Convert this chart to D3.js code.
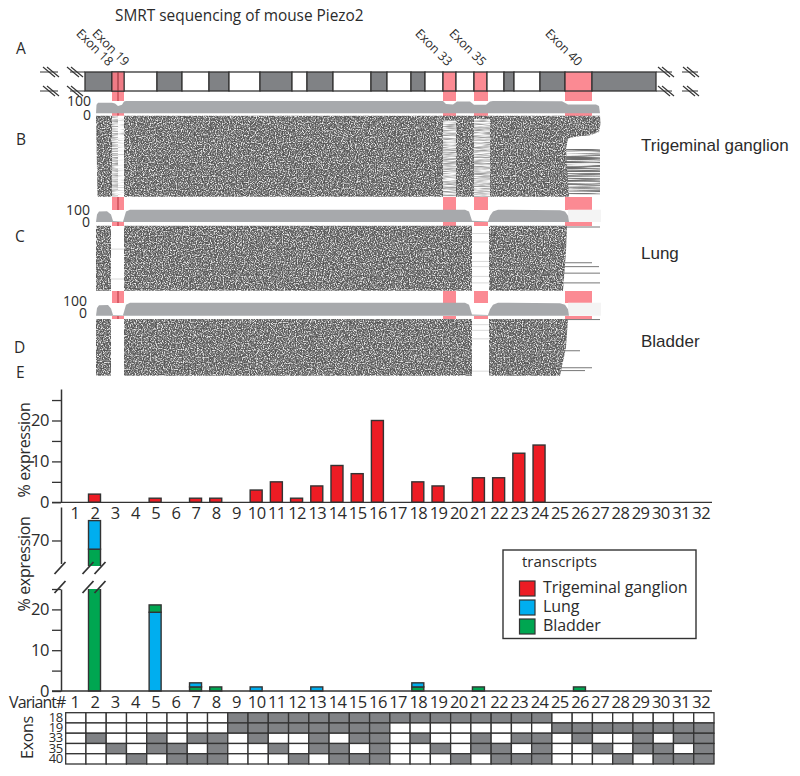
<!DOCTYPE html>
<html>
<head>
<meta charset="utf-8">
<script src="https://cdn.jsdelivr.net/npm/d3@7"></script>
<style>
html,body{margin:0;padding:0;background:#fff;}
svg{display:block;}
text{font-family:"Open Sans",sans-serif;fill:#2b2b2b;}
.arial{font-family:"Liberation Sans",sans-serif;}
</style>
</head>
<body>
<svg id="chart" width="800" height="776"></svg>
<script>
// transcript track, positions along the transcript
const trackEdges = [0,27,39,72,97,124,144,175,207,222,248,286,302,326,340,358,371,389,402,419,429,455,480,507,571];
const trackKinds = ['g','p','w','g','w','g','w','g','w','g','w','g','w','g','w','p','w','p','w','g','w','g','p','g'];
const pinkExons = [[27,39],[358,371],[389,403],[480,507]];
const exon18End = 33;
const exonLabels = ['Exon 18','Exon 19','Exon 33','Exon 35','Exon 40'];
const exonLabelPos = [26,42,365,399,495];

// coverage, [position, % of max]
const coverageB = [[11,0],[11.5,70],[13,85],[27,85],[30,80],[33,60],[37,70],[39,95],[41,100],[358,100],[361,75],[368,72],[372,95],[385,95],[389,70],[401,70],[405,95],[408,100],[477,98],[483,72],[511,72],[514,60],[515,0]];
const coverageC = [[11,0],[12,60],[14,85],[22,88],[26,60],[28,8],[38,3],[39,30],[41,85],[45,100],[380,100],[384,85],[387,10],[403,5],[405,50],[408,85],[413,100],[475,95],[480,85],[483,50],[484,0]];
const coverageD = [[11,0],[12,60],[14,80],[23,82],[26,55],[28,6],[38,3],[39,30],[41,85],[45,100],[380,100],[384,85],[387,10],[403,6],[405,50],[408,85],[413,100],[475,95],[480,85],[483,50],[484,0]];

// read pile-ups, [position, read rank 0-100]
const denseB = [
  [[11,0],[27,0],[27,100],[12.5,100]],
  [[39,0],[358,0],[358,100],[39,100]],
  [[371,0],[389,0],[389,100],[371,100]],
  [[405,0],[515,0],[515.5,10],[514,20],[505,24],[490,26],[483,28],[481,41],[484,100],[405,100]],
  [[358,0],[371,0],[371,6],[358,6]],
  [[389,0],[405,0],[405,4],[389,4]]
];
const sparseB = [
  [[27,0],[33,0],[33,100],[27,100]],
  [[358,6],[371,6],[371,100],[358,100]],
  [[389,4],[405,4],[405,100],[389,100]]
];
const faintB = [[[33,0],[39,0],[39,100],[33,100]]];
const streakB = [[[481,41],[515,41],[515,97],[481,97]]];
const denseC = [
  [[11,0],[26,0],[26,100],[11,100]],
  [[39,0],[387,0],[387,100],[39,100]],
  [[404,0],[482,0],[481,40],[478,100],[404,100]]
];
const denseD = [
  [[11,0],[26,0],[26,100],[11,100]],
  [[39,0],[387,0],[387,100],[39,100]],
  [[404,0],[483,0],[481,50],[475,100],[404,100]]
];
// single long reads, [rank, from, to]
const linesC = [[2,482,515],[57,478,507],[63,478,514],[73,478,515],[88,478,515]];
const linesD = [[1,482,515],[56,476,495],[86,476,507],[91,476,500]];
const faintC = [[12,387,404],[25,387,404],[42,387,404],[55,387,404],[63,387,404],[78,387,404],[88,387,404],[36,26,39],[82,26,39]];
const faintD = [[10,387,404],[20,387,404],[35,387,404],[92,387,404]];

// % expression per variant
const variants = d3.range(1,33);
const trigeminal = [0,2,0,0,1,0,1,1,0,3,5,1,4,9,7,20,0,5,4,0,6,6,12,14,0,0,0,0,0,0,0,0];
const lung = [0,7,0,0,19.3,0,1,0,0,1,0,0,1,0,0,0,0,1,0,0,0,0,0,0,0,0,0,0,0,0,0,0];
const bladder = [0,68,0,0,1.8,0,1,1,0,0,0,0,0,0,0,0,0,1,0,0,1,0,0,0,0,1,0,0,0,0,0,0];
const lungOnBottom = [5];

// which exons each variant skips
const exonRows = ['18','19','33','35','40'];
const skipped18 = [9,10,11,12,13,14,15,16,17,18,19,20,21,22,23,24];
const skipped19 = [9,10,11,12,13,14,15,16,25,26,27,28,29,30,31,32];
const skipped33 = [2,5,7,8,10,13,15,16,18,21,23,24,26,29,31,32];
const skipped35 = [3,5,6,8,11,13,14,16,19,21,22,24,27,29,30,32];
const skipped40 = [4,6,7,8,12,14,15,16,20,22,23,24,28,30,31,32];

const legendNames = ['Trigeminal ganglion','Lung','Bladder'];
const colors = {tg:'#ed1c24',lung:'#00aeef',bladder:'#00a651'};
const ink = '#333';

const svg = d3.select('#chart');
const x = d3.scaleLinear().domain([0,571]).range([85,656]);

// grain for the read pile-ups
const defs = svg.append('defs');
function grain(id,freq,table,seed){
  const f = defs.append('filter').attr('id',id)
    .attr('x','0').attr('y','0').attr('width','100%').attr('height','100%')
    .attr('color-interpolation-filters','sRGB');
  f.append('feTurbulence').attr('type','fractalNoise').attr('baseFrequency',freq)
    .attr('numOctaves',2).attr('seed',seed).attr('result','n');
  f.append('feColorMatrix').attr('in','n').attr('type','matrix')
    .attr('values','1 0 0 0 0 1 0 0 0 0 1 0 0 0 0 0 0 0 0 1').attr('result','g');
  const t = f.append('feComponentTransfer').attr('in','g').attr('result','c');
  ['feFuncR','feFuncG','feFuncB'].forEach(n=>t.append(n).attr('type','table').attr('tableValues',table));
  f.append('feGaussianBlur').attr('in','c').attr('stdDeviation',0.4).attr('result','b');
  f.append('feComposite').attr('in','b').attr('in2','SourceGraphic').attr('operator','in');
}
grain('dense','0.85','.3 .3 .3 .32 .36 .42 .55 .75 .9 .95 .95 .95',3);
grain('sparse','0.07 0.8','.6 .6 .6 .63 .7 .78 .87 .95 1 1 1 1',5);
grain('faint','0.05 0.7','.75 .75 .75 .8 .9 .97 1 1 1 1 1 1',6);
grain('streak','0.02 1.1','.42 .42 .42 .42 .47 .58 .78 .95 1 1 1 1',8);

// pink exon strips behind the panels
const strips = [[91,101],[113,116],[197,210],[222,226],[291,303],[316,319]];
strips.forEach(s=>{
  svg.append('g').selectAll('rect').data(pinkExons).join('rect')
    .attr('x',d=>x(d[0])).attr('width',d=>x(d[1])-x(d[0]))
    .attr('y',s[0]).attr('height',s[1]-s[0]).attr('fill','#fb8a93');
  svg.append('line').attr('x1',x(exon18End)).attr('x2',x(exon18End))
    .attr('y1',s[0]).attr('y2',s[1]).attr('stroke','#b5303c').attr('stroke-width',1);
});

// transcript track
const fillKind = {g:'#808285',p:'#fb8a93',w:'#fff'};
svg.append('g').selectAll('rect').data(trackKinds).join('rect')
  .attr('x',(d,i)=>x(trackEdges[i])).attr('width',(d,i)=>x(trackEdges[i+1])-x(trackEdges[i]))
  .attr('y',72).attr('height',19)
  .attr('fill',d=>fillKind[d]).attr('stroke',ink).attr('stroke-width',1.3);
svg.append('rect').attr('x',x(27)).attr('width',x(39)-x(27)).attr('y',72).attr('height',19)
  .attr('fill','#ef7b85').attr('stroke',ink).attr('stroke-width',1);
svg.append('line').attr('x1',x(exon18End)).attr('x2',x(exon18End)).attr('y1',72).attr('y2',91)
  .attr('stroke','#8a2a33').attr('stroke-width',1);

// axis break marks either side of the track
[72,91].forEach(y=>{
  [[40,58],[70,85],[656,672],[682,698]].forEach(s=>{
    svg.append('line').attr('x1',s[0]).attr('x2',s[1]).attr('y1',y).attr('y2',y).attr('stroke',ink).attr('stroke-width',1);
  });
  [49,53,73,77,664,668,689,693].forEach(c=>{
    svg.append('line').attr('x1',c-6).attr('x2',c+6).attr('y1',y-5).attr('y2',y+5).attr('stroke',ink).attr('stroke-width',1.1);
  });
});

// exon names
svg.append('g').selectAll('text').data(exonLabels).join('text')
  .attr('text-anchor','end').attr('font-size',12.5)
  .attr('transform',(d,i)=>'translate('+x(exonLabelPos[i])+',64) rotate(45)')
  .attr('dy',4)
  .text(d=>d);

// sample panels
function panel(opts){
  const yCov = d3.scaleLinear().domain([0,100]).range(opts.cov);
  const yRead = d3.scaleLinear().domain([0,100]).range(opts.read);
  if(opts.pale){
    svg.append('rect').attr('x',x(483)).attr('width',x(516)-x(483))
      .attr('y',opts.cov[1]).attr('height',opts.cov[0]-opts.cov[1]).attr('fill','#f4f4f4');
  }
  const area = d3.area().x(d=>x(d[0])).y0(opts.cov[0]).y1(d=>yCov(d[1]));
  svg.append('path').attr('d',area(opts.coverage)).attr('fill','#a7a9ac');
  const poly = d3.line().x(d=>x(d[0])).y(d=>yRead(d[1]));
  const draw = (list,filter)=>svg.append('g').selectAll('path').data(list).join('path')
    .attr('d',d=>poly(d)+'Z').attr('fill','#000').attr('filter','url(#'+filter+')');
  if(opts.faintBlocks) draw(opts.faintBlocks,'faint');
  if(opts.sparse) draw(opts.sparse,'sparse');
  if(opts.streak) draw(opts.streak,'streak');
  draw(opts.dense,'dense');
  const lines = (list,col,w)=>svg.append('g').selectAll('line').data(list||[]).join('line')
    .attr('x1',d=>x(d[1])).attr('x2',d=>x(d[2]))
    .attr('y1',d=>yRead(d[0])).attr('y2',d=>yRead(d[0]))
    .attr('stroke',col).attr('stroke-width',w);
  lines(opts.faint,'#c8c8c8',0.7);
  lines(opts.lines,'#777',1);
  svg.append('text').attr('x',opts.numX).attr('y',opts.num[0]).attr('text-anchor','end').attr('font-size',14).text('100');
  svg.append('text').attr('x',opts.numX).attr('y',opts.num[1]).attr('text-anchor','end').attr('font-size',14).text('0');
}
panel({coverage:coverageB,cov:[113.3,101],read:[115.7,196.7],dense:denseB,sparse:sparseB,faintBlocks:faintB,streak:streakB,numX:91,num:[106,120]});
panel({coverage:coverageC,cov:[222,209.7],read:[225.7,290.7],dense:denseC,faint:faintC,lines:linesC,pale:true,numX:90,num:[215,227]});
panel({coverage:coverageD,cov:[315.7,302.7],read:[319,375.7],dense:denseD,faint:faintD,lines:linesD,pale:true,numX:87,num:[306,318]});

// panel letters and sample names
const letters = [['A',16,54],['B',16,145],['C',15,242],['D',14,353],['E',16,378]];
svg.append('g').selectAll('text').data(letters).join('text')
  .attr('x',d=>d[1]).attr('y',d=>d[2]).attr('font-size',15.5).text(d=>d[0]);
svg.append('text').attr('x',115).attr('y',21).attr('font-size',15.4).text('SMRT sequencing of mouse Piezo2');
svg.append('g').selectAll('text').data([['Trigeminal ganglion',151],['Lung',259],['Bladder',347]]).join('text')
  .attr('class','arial').attr('x',641).attr('y',d=>d[1]).attr('font-size',17).text(d=>d[0]);

// bar charts
const barX = d3.scalePoint().domain(variants).range([94.5-20.2,700.7]);
const barW = 12;

function leftAxis(y,ticks,majors){
  return d3.axisLeft(y).tickValues(ticks).tickSize(9).tickSizeOuter(0)
    .tickFormat(d=>majors.includes(d)?d:'');
}
function styleAxis(g){
  g.selectAll('path').attr('stroke',ink).attr('stroke-width',1.5);
  g.selectAll('line').attr('stroke',ink).attr('stroke-width',1.3);
  g.selectAll('text').attr('font-size',16.5).attr('fill','#2b2b2b').attr('font-family','"Open Sans",sans-serif').attr('letter-spacing',-0.4);
}

// top chart, trigeminal ganglion
const yTop = d3.scaleLinear().domain([0,27.7]).range([502.3,389]);
svg.append('g').selectAll('rect').data(variants.filter((v,i)=>trigeminal[i]>0)).join('rect')
  .attr('x',v=>barX(v)-barW/2).attr('width',barW)
  .attr('y',v=>yTop(trigeminal[v-1])).attr('height',v=>yTop(0)-yTop(trigeminal[v-1]))
  .attr('fill',colors.tg).attr('stroke',ink).attr('stroke-width',1.4);
styleAxis(svg.append('g').attr('transform','translate(61,0)')
  .call(leftAxis(yTop,[0,5,10,15,20,25],[0,10,20])));
svg.append('line').attr('x1',52).attr('x2',712).attr('y1',yTop(0)).attr('y2',yTop(0)).attr('stroke',ink).attr('stroke-width',1.3);

const labelAxis = d3.axisBottom(barX).tickSize(0).tickPadding(0);
function variantLabels(y){
  const g = svg.append('g').attr('transform','translate(0,'+y+')').call(labelAxis);
  g.select('path').remove();
  g.selectAll('text').attr('font-size',16.5).attr('fill','#2b2b2b').attr('font-family','"Open Sans",sans-serif')
    .attr('letter-spacing',-0.6).attr('dy',0).attr('y',0);
}
variantLabels(519);
variantLabels(708);
svg.append('text').attr('x',9).attr('y',708).attr('font-size',16).attr('letter-spacing',-0.9).text('Variant#');

// bottom chart, broken axis: each stack is drawn in both halves and clipped
const yLow = d3.scaleLinear().domain([0,25]).range([691,589]);
const yUp = d3.scaleLinear().domain([70,75]).range([541,520.6]);
[['clipLow',589,103],['clipUp',507,59]].forEach(c=>{
  defs.append('clipPath').attr('id',c[0]).append('rect')
    .attr('x',60).attr('width',660).attr('y',c[1]).attr('height',c[2]);
});
const stacks = [];
variants.forEach((v,i)=>{
  const onBottom = lungOnBottom.includes(v);
  const first = onBottom ? ['lung',lung[i]] : ['bladder',bladder[i]];
  const second = onBottom ? ['bladder',bladder[i]] : ['lung',lung[i]];
  if(first[1]>0) stacks.push({v:v,key:first[0],y0:0,y1:first[1]});
  if(second[1]>0) stacks.push({v:v,key:second[0],y0:first[1],y1:first[1]+second[1]});
});
[['clipLow',yLow],['clipUp',yUp]].forEach(h=>{
  svg.append('g').attr('clip-path','url(#'+h[0]+')').selectAll('rect').data(stacks).join('rect')
    .attr('x',d=>barX(d.v)-barW/2).attr('width',barW)
    .attr('y',d=>h[1](d.y1)).attr('height',d=>h[1](d.y0)-h[1](d.y1))
    .attr('fill',d=>colors[d.key]).attr('stroke',ink).attr('stroke-width',1.4);
});
styleAxis(svg.append('g').attr('transform','translate(61,0)')
  .call(leftAxis(yLow,[0,5,10,15,20,25],[0,10,20])));
const yUpAxis = d3.scaleLinear().domain([64.5,78]).range([563.5,507]);
styleAxis(svg.append('g').attr('transform','translate(61,0)')
  .call(leftAxis(yUpAxis,[70],[70])));
svg.append('line').attr('x1',52).attr('x2',712).attr('y1',yLow(0)).attr('y2',yLow(0)).attr('stroke',ink).attr('stroke-width',1.3);
// break slashes
[60,88,100].forEach(c=>{
  [568,587].forEach(y=>{
    svg.append('line').attr('x1',c-5.5).attr('x2',c+5.5).attr('y1',y+6).attr('y2',y-6)
      .attr('stroke',ink).attr('stroke-width',1.8);
  });
});

// rotated y titles
[[30,450],[30,564]].forEach(p=>{
  svg.append('text').attr('transform','translate('+p[0]+','+p[1]+') rotate(-90)')
    .attr('text-anchor','middle').attr('font-size',16).attr('letter-spacing',-0.3).text('% expression');
});
svg.append('text').attr('transform','translate(33,737.5) rotate(-90)')
  .attr('text-anchor','middle').attr('font-size',16).attr('letter-spacing',-0.3).text('Exons');

// exon matrix
const cellX = d3.scaleBand().domain(variants).range([65.7,714]);
const cellY = d3.scaleBand().domain(exonRows).range([712.7,764]);
const skippedBy = {'18':skipped18,'19':skipped19,'33':skipped33,'35':skipped35,'40':skipped40};
const cells = exonRows.flatMap(r=>variants.map(v=>({r:r,v:v})));
svg.append('g').selectAll('rect').data(cells).join('rect')
  .attr('x',d=>cellX(d.v)).attr('width',cellX.bandwidth())
  .attr('y',d=>cellY(d.r)).attr('height',cellY.bandwidth())
  .attr('fill',d=>skippedBy[d.r].includes(d.v)?'#808285':'#fff')
  .attr('stroke',ink).attr('stroke-width',1.3);
svg.append('g').selectAll('text').data(exonRows).join('text')
  .attr('x',63).attr('y',d=>cellY(d)+cellY.bandwidth()-1)
  .attr('text-anchor','end').attr('font-size',13).attr('letter-spacing',-0.3).text(d=>d);

// legend
const legend = svg.append('g');
legend.append('rect').attr('x',503).attr('y',550).attr('width',193).attr('height',88.5)
  .attr('fill','#fff').attr('stroke',ink).attr('stroke-width',1.4);
legend.append('text').attr('x',522).attr('y',567).attr('font-size',15).attr('letter-spacing',0).text('transcripts');
const legendKeys = ['tg','lung','bladder'];
const legendY = d3.scalePoint().domain(legendNames).range([581,619]);
legend.selectAll('rect.key').data(legendNames).join('rect').attr('class','key')
  .attr('x',519.5).attr('y',d=>legendY(d)).attr('width',15.5).attr('height',15)
  .attr('fill',(d,i)=>colors[legendKeys[i]]).attr('stroke',ink).attr('stroke-width',1.2);
legend.selectAll('text.name').data(legendNames).join('text').attr('class','name')
  .attr('x',543).attr('y',d=>legendY(d)+12).attr('font-size',16).attr('letter-spacing',-0.1).text(d=>d);
</script>
</body>
</html>
